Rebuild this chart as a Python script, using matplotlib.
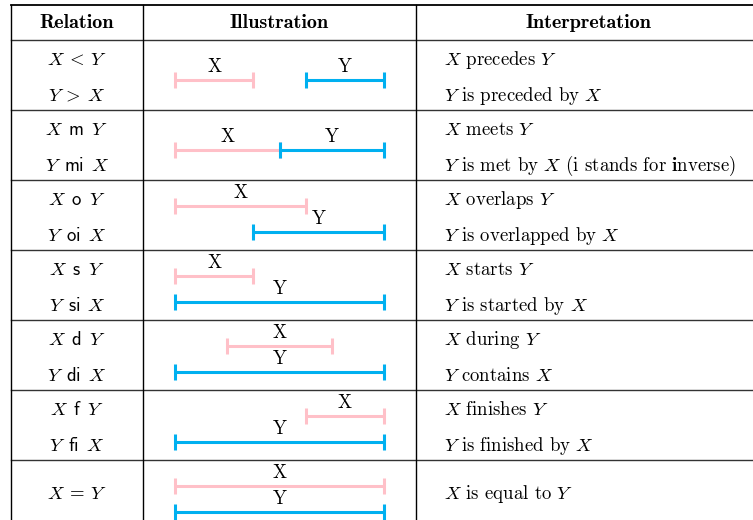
import matplotlib
matplotlib.use("Agg")
import matplotlib.pyplot as plt

plt.rcParams['font.family'] = 'serif'
plt.rcParams['font.serif'] = ['cmr10']
plt.rcParams['mathtext.fontset'] = 'cm'
plt.rcParams['axes.unicode_minus'] = False

# table content
headers = ['Relation', 'Illustration', 'Interpretation']
relations = [
    (r'$X\:<\:Y$', r'$Y\:>\:X$'),
    (r'$X\ \,\mathsf{m}\ \,Y$', r'$Y\ \,\mathsf{mi}\ \,X$'),
    (r'$X\ \,\mathsf{o}\ \,Y$', r'$Y\ \,\mathsf{oi}\ \,X$'),
    (r'$X\ \,\mathsf{s}\ \,Y$', r'$Y\ \,\mathsf{si}\ \,X$'),
    (r'$X\ \,\mathsf{d}\ \,Y$', r'$Y\ \,\mathsf{di}\ \,X$'),
    (r'$X\ \,\mathsf{f}\ \,Y$', r'$Y\ \,\mathsf{fi}\ \,X$'),
    (r'$X\:=\:Y$',),
]
interpretations = [
    (r'$X$ precedes $Y$', r'$Y$ is preceded by $X$'),
    (r'$X$ meets $Y$', r'$Y$ is met by $X$ (i stands for $\mathbf{i}$nverse)'),
    (r'$X$ overlaps $Y$', r'$Y$ is overlapped by $X$'),
    (r'$X$ starts $Y$', r'$Y$ is started by $X$'),
    (r'$X$ during $Y$', r'$Y$ contains $X$'),
    (r'$X$ finishes $Y$', r'$Y$ is finished by $X$'),
    (r'$X$ is equal to $Y$',),
]

# intervals on a 0..8 time scale
x_start = [0, 0, 0, 0, 2, 5, 0]
x_end = [3, 4, 5, 3, 6, 8, 8]
y_start = [5, 4, 3, 0, 0, 0, 0]
y_end = [8, 8, 8, 8, 8, 8, 8]
stacked = [False, False, True, True, True, True, True]

pink = '#ffc0c8'
blue = '#00b0f0'

W, H = 753, 520
fig = plt.figure(figsize=(W / 100, H / 100), dpi=100)
ax = fig.add_axes([0, 0, 1, 1])
ax.set_xlim(0, W)
ax.set_ylim(H, 0)
ax.axis('off')

col_x = [11, 143, 416]
header_top, header_bot = 5, 40
row_h = 70
row_tops = [header_bot + i * row_h for i in range(len(relations))]

# grid
ax.plot([col_x[0], W], [header_top, header_top], color='black', lw=1.3)
for y in row_tops:
    ax.plot([col_x[0], W], [y, y], color='#333333', lw=1.0)
for x in col_x:
    ax.plot([x, x], [header_top, H], color='black', lw=1.0)

# headers
hx = [(col_x[0] + col_x[1]) / 2, (col_x[1] + col_x[2]) / 2, (col_x[2] + W) / 2 + 4]
for x, t in zip(hx, headers):
    ax.text(x, (header_top + header_bot) / 2 + 1, t, family='cmb10', fontsize=14.5,
            ha='center', va='center')

# relation + interpretation text
fs = 13.5
for top, rel, itp in zip(row_tops, relations, interpretations):
    ys = [top + 20, top + 56] if len(rel) == 2 else [top + 34]
    for y, r, t in zip(ys, rel, itp):
        ax.text(77, y, r, fontsize=fs, ha='center', va='center')
        ax.text(444, y, t, fontsize=fs, ha='left', va='center')

# illustration column: separate axes with the time scale
x0_px, x8_px = 175, 384
unit = (x8_px - x0_px) / 8
ill = fig.add_axes([col_x[1] / W, 0, (col_x[2] - col_x[1]) / W, 1])
ill.set_xlim(-(x0_px - col_x[1]) / unit, (col_x[2] - x0_px) / unit)
ill.set_ylim(H, 0)
ill.axis('off')

for top, xs, xe, ys_, ye, st in zip(row_tops, x_start, x_end, y_start, y_end, stacked):
    if st:
        yx, yy = top + 26, top + 52
    else:
        yx = yy = top + 40
    for s, e, y, c, lab in [(xs, xe, yx, pink, 'X'), (ys_, ye, yy, blue, 'Y')]:
        ill.plot([s, e], [y, y], color=c, lw=2.2, marker='|', ms=11, mew=2.2,
                 solid_capstyle='butt')
        ill.text((s + e) / 2, y - 13, lab, fontsize=fs, ha='center', va='center')

fig.savefig('out.png', dpi=100)
